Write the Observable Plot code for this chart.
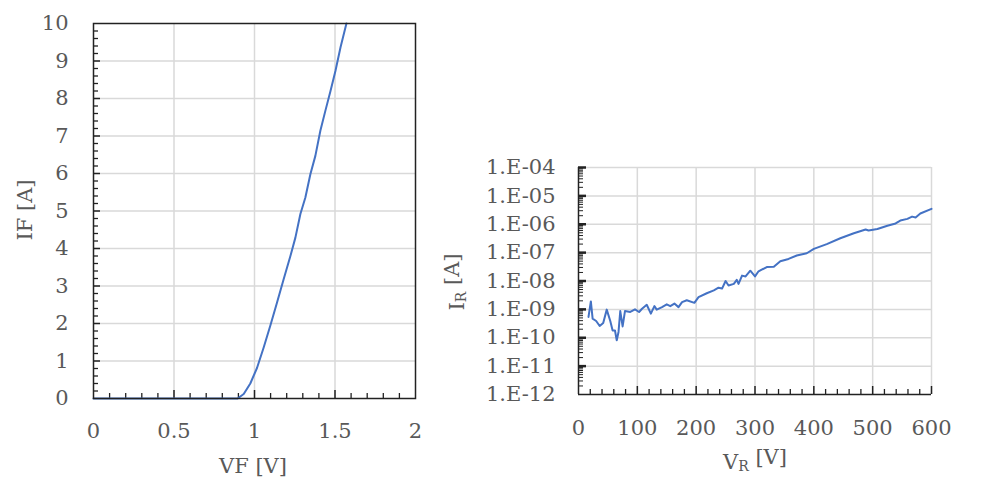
<!DOCTYPE html>
<html><head><meta charset="utf-8">
<script src="https://cdn.jsdelivr.net/npm/d3@7"></script>
<script src="https://cdn.jsdelivr.net/npm/@observablehq/plot@0.6"></script>
<style>
body{margin:0;background:#fff;}
#wrap{position:relative;width:1003px;height:478px;overflow:hidden;background:#fff;}
#left,#right{position:absolute;top:0;}
#left{left:0;} #right{left:440px;}
svg{overflow:visible;}
</style></head><body><div id="wrap"><div id="left"></div><div id="right"></div></div>
<script>
// Forward characteristic
const vfValues = [0, 0.895, 0.933, 0.974, 1.016, 1.057, 1.098, 1.14, 1.181, 1.223, 1.254, 1.285, 1.316, 1.347, 1.378, 1.409, 1.44, 1.472, 1.503, 1.534, 1.571];
const ifValues = [0, 0, 0.12, 0.4, 0.82, 1.36, 1.94, 2.56, 3.18, 3.8, 4.29, 4.92, 5.36, 5.98, 6.47, 7.14, 7.67, 8.2, 8.74, 9.36, 10];
const vfTicks = [0, 0.5, 1, 1.5, 2];
const vfTickLabels = ["0", "0.5", "1", "1.5", "2"];
const ifTicks = [0, 1, 2, 3, 4, 5, 6, 7, 8, 9, 10];
const vfMinor = d3.range(1, 20).map(i => i / 10).filter(v => Math.abs(v * 2 - Math.round(v * 2)) > 1e-9);
const ifMinor = d3.range(1, 50).map(i => i / 5).filter(v => Math.abs(v - Math.round(v)) > 1e-9);

// Reverse leakage
const vrValues = [17, 21, 24, 30, 36, 42, 48, 54, 58, 62, 65, 68, 71, 75, 79, 88, 96, 103, 108, 116, 123, 129, 133, 142, 150, 156, 163, 170, 176, 184, 197, 204, 218, 230, 238, 244, 250, 255, 264, 269, 272, 278, 284, 292, 300, 306, 320, 332, 343, 357, 371, 388, 400, 422, 445, 468, 488, 493, 508, 525, 539, 547, 559, 567, 573, 581, 600];
const irValues = [5.4e-10, 1.9e-9, 4.7e-10, 3.9e-10, 2.6e-10, 3.3e-10, 9.8e-10, 3.9e-10, 1.8e-10, 1.8e-10, 8.1e-11, 1.6e-10, 8.7e-10, 2.5e-10, 8.7e-10, 8.1e-10, 1.0e-9, 8.1e-10, 1.05e-9, 1.45e-9, 7.1e-10, 1.3e-9, 9.8e-10, 1.2e-9, 1.5e-9, 1.3e-9, 1.6e-9, 1.2e-9, 1.8e-9, 2.1e-9, 1.7e-9, 2.7e-9, 3.7e-9, 4.7e-9, 5.8e-9, 5.4e-9, 1.0e-8, 6.9e-9, 7.9e-9, 1.1e-8, 7.9e-9, 1.55e-8, 1.45e-8, 2.3e-8, 1.45e-8, 2.2e-8, 3.1e-8, 3.2e-8, 5.0e-8, 6.0e-8, 7.9e-8, 9.5e-8, 1.35e-7, 2.0e-7, 3.2e-7, 4.8e-7, 6.5e-7, 6.0e-7, 6.8e-7, 8.9e-7, 1.07e-6, 1.35e-6, 1.55e-6, 1.86e-6, 1.74e-6, 2.4e-6, 3.5e-6];
const vrTicks = [0, 100, 200, 300, 400, 500, 600];
const irTicks = [1e-12, 1e-11, 1e-10, 1e-9, 1e-8, 1e-7, 1e-6, 1e-5, 1e-4];
const irTickLabels = ["1.E-12", "1.E-11", "1.E-10", "1.E-09", "1.E-08", "1.E-07", "1.E-06", "1.E-05", "1.E-04"];
const vrMinor = d3.range(20, 600, 20).filter(v => v % 100 !== 0);
const irMinor = d3.range(-12, -4).flatMap(e => d3.range(2, 10).map(m => m * Math.pow(10, e)));

const lineColor = "#4472C4";
const gridColor = "#d9d9d9";
const textColor = "#595959";
const font = "DejaVu Serif";
const fs = 21;

const fwd = vfValues.map((v, i) => ({v, i: ifValues[i]}));
const rev = vrValues.map((v, i) => ({v, i: irValues[i]}));

// LEFT
const L = {w: 440, h: 478, ml: 93, mr: 25, mt: 23, mb: 80};
const lpw = L.w - L.ml - L.mr, lph = L.h - L.mt - L.mb;
const left = Plot.plot({
  width: L.w, height: L.h,
  marginLeft: L.ml, marginRight: L.mr, marginTop: L.mt, marginBottom: L.mb,
  style: {fontFamily: font, fontSize: fs + "px", color: textColor, background: "white", overflow: "visible"},
  x: {domain: [0, 2]},
  y: {domain: [0, 10]},
  marks: [
    Plot.gridX(vfTicks.slice(1, -1), {stroke: gridColor, strokeOpacity: 1, strokeWidth: 1.5}),
    Plot.gridY(ifTicks.slice(1, -1), {stroke: gridColor, strokeOpacity: 1, strokeWidth: 1.5}),
    Plot.ruleX(vfMinor, {stroke: "#222", strokeWidth: 1.3, insetTop: lph - 5}),
    Plot.ruleX(vfTicks.slice(1, -1), {stroke: "#222", strokeWidth: 1.5, insetTop: lph - 8}),
    Plot.ruleY(ifMinor, {stroke: "#222", strokeWidth: 1.3, insetRight: lpw - 5}),
    Plot.ruleY(ifTicks.slice(1, -1), {stroke: "#222", strokeWidth: 1.5, insetRight: lpw - 7}),
    Plot.axisX(vfTicks, {tickSize: 0, tickPadding: 25, label: null, fill: textColor, fontSize: fs,
      tickFormat: d => vfTickLabels[vfTicks.indexOf(d)]}),
    Plot.axisY(ifTicks, {tickSize: 0, tickPadding: 25, label: null, fill: textColor, fontSize: fs}),
    Plot.line(fwd, {x: "v", y: "i", stroke: lineColor, strokeWidth: 2}),
    Plot.frame({stroke: "#222", strokeWidth: 1.5})
  ]
});
document.getElementById("left").append(left);
{
  const s = d3.select(left);
  s.append("text").attr("transform", "translate(25,210) rotate(-90)")
    .attr("text-anchor", "middle").attr("dominant-baseline", "central")
    .attr("fill", textColor).style("font-size", "21px").text("IF [A]");
  s.append("text").attr("x", 253).attr("y", 466)
    .attr("text-anchor", "middle").attr("dominant-baseline", "central")
    .attr("fill", textColor).style("font-size", "21px").text("VF [V]");
}

// RIGHT
const R = {w: 563, h: 478, ml: 138, mr: 72, mt: 167, mb: 84};
const rpw = R.w - R.ml - R.mr, rph = R.h - R.mt - R.mb;
const right = Plot.plot({
  width: R.w, height: R.h,
  marginLeft: R.ml, marginRight: R.mr, marginTop: R.mt, marginBottom: R.mb,
  style: {fontFamily: font, fontSize: fs + "px", color: textColor, background: "white", overflow: "visible"},
  x: {domain: [0, 600]},
  y: {type: "log", domain: [1e-12, 1e-4]},
  marks: [
    Plot.gridX(vrTicks.slice(1), {stroke: gridColor, strokeOpacity: 1, strokeWidth: 1.5}),
    Plot.gridY(irTicks.slice(1), {stroke: gridColor, strokeOpacity: 1, strokeWidth: 1.5}),
    Plot.ruleX(vrMinor, {stroke: "#222", strokeWidth: 1.3, insetTop: rph - 5}),
    Plot.ruleX(vrTicks.slice(1), {stroke: "#222", strokeWidth: 1.5, insetTop: rph - 8}),
    Plot.ruleY(irMinor, {stroke: "#222", strokeWidth: 1, insetRight: rpw - 5}),
    Plot.ruleY(irTicks.slice(1), {stroke: "#222", strokeWidth: 2.5, insetRight: rpw - 8}),
    Plot.axisX(vrTicks, {tickSize: 0, tickPadding: 26, label: null, fill: textColor, fontSize: fs}),
    Plot.axisY(irTicks, {tickSize: 0, tickPadding: 23, label: null, fill: textColor, fontSize: fs,
      tickFormat: d => irTickLabels[irTicks.indexOf(d)]}),
    Plot.line(rev, {x: "v", y: "i", stroke: lineColor, strokeWidth: 2}),
    Plot.ruleX([0], {stroke: "#222", strokeWidth: 1.5}),
    Plot.ruleY([1e-12], {stroke: "#222", strokeWidth: 1.5})
  ]
});
document.getElementById("right").append(right);
{
  const s = d3.select(right);
  const t1 = s.append("text").attr("transform", "translate(17,282) rotate(-90)")
    .attr("text-anchor", "middle").attr("dominant-baseline", "central")
    .attr("fill", textColor).style("font-size", "21px");
  t1.append("tspan").text("I");
  t1.append("tspan").attr("dy", "0.3em").style("font-size", "14px").text("R");
  t1.append("tspan").attr("dy", "-0.45em").text(" [A]");
  const t2 = s.append("text").attr("x", 315).attr("y", 462)
    .attr("text-anchor", "middle").attr("dominant-baseline", "central")
    .attr("fill", textColor).style("font-size", "21px");
  t2.append("tspan").text("V");
  t2.append("tspan").attr("dy", "0.3em").style("font-size", "14px").text("R");
  t2.append("tspan").attr("dy", "-0.45em").text(" [V]");
}
</script>
</body></html>
